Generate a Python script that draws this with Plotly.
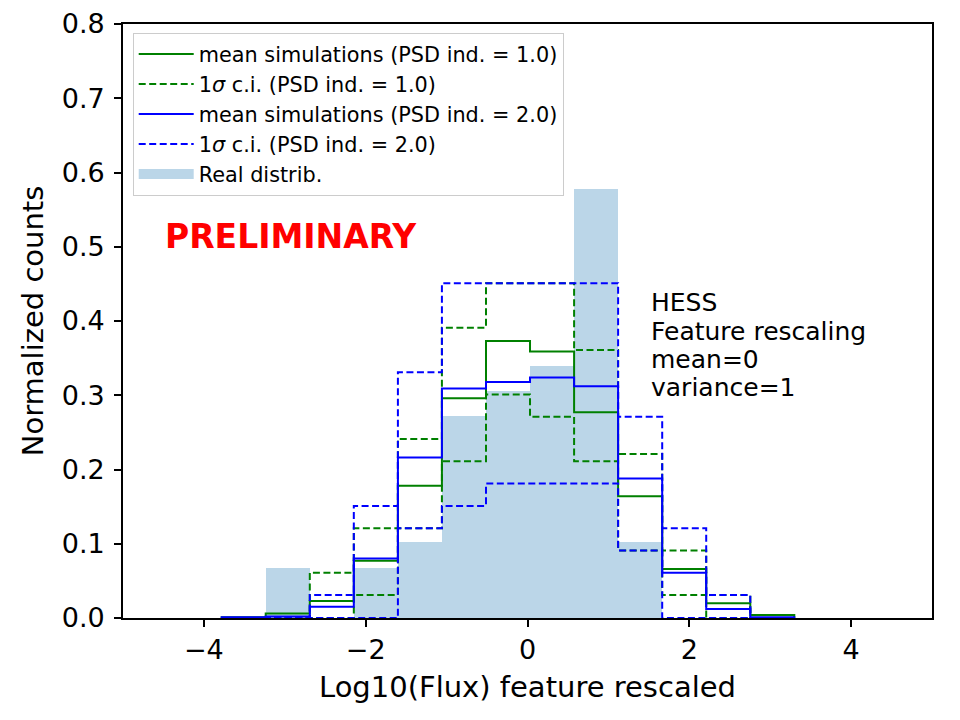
import numpy as np
import plotly.graph_objects as go

# ---------------- data ----------------
bin_edges = [-3.780, -3.236, -2.691, -2.147, -1.602, -1.058, -0.513,
             0.031, 0.576, 1.120, 1.665, 2.209, 2.754, 3.298]

real_distrib = [0.0, 0.068, 0.0, 0.068, 0.102, 0.272, 0.306, 0.340,
                0.578, 0.102, 0.0, 0.0, 0.0]

green_mean = [0.001, 0.006, 0.023, 0.077, 0.178, 0.296, 0.373, 0.359,
              0.277, 0.164, 0.066, 0.020, 0.004]
green_upper = [0.0, 0.0, 0.061, 0.121, 0.241, 0.391, 0.451, 0.451,
               0.361, 0.221, 0.091, 0.031, 0.0]
green_lower = [0.0, 0.0, 0.0, 0.031, 0.121, 0.211, 0.301, 0.271,
               0.211, 0.091, 0.031, 0.0, 0.0]

blue_mean = [0.001, 0.002, 0.015, 0.080, 0.216, 0.309, 0.318, 0.324,
             0.312, 0.188, 0.061, 0.012, 0.001]
blue_upper = [0.0, 0.0, 0.031, 0.151, 0.331, 0.451, 0.451, 0.451,
              0.451, 0.271, 0.121, 0.031, 0.0]
blue_lower = [0.0, 0.0, 0.0, 0.0, 0.121, 0.151, 0.181, 0.181,
              0.181, 0.091, 0.0, 0.0, 0.0]

x_ticks = [-4, -2, 0, 2, 4]
y_ticks = [0.0, 0.1, 0.2, 0.3, 0.4, 0.5, 0.6, 0.7, 0.8]

labels = {
    "gm": "mean simulations (PSD ind. = 1.0)",
    "gc": "1<i>σ</i> c.i. (PSD ind. = 1.0)",
    "bm": "mean simulations (PSD ind. = 2.0)",
    "bc": "1<i>σ</i> c.i. (PSD ind. = 2.0)",
    "real": "Real distrib.",
}
info_lines = ["HESS", "Feature rescaling", "mean=0", "variance=1"]

# ---------------- helpers ----------------
edges = np.array(bin_edges)
centers = (edges[:-1] + edges[1:]) / 2
widths = np.diff(edges)


def step_xy(vals):
    xs = [edges[0]] + list(edges[:-1]) + [edges[-1], edges[-1]]
    ys = [0.0] + list(vals) + [vals[-1], 0.0]
    return xs, ys


FONT = "DejaVu Sans"
BAR_COLOR = "rgba(31,119,180,0.3)"
fig = go.Figure()

fig.add_trace(go.Bar(
    x=centers, y=real_distrib, width=widths,
    marker=dict(color=BAR_COLOR, line=dict(width=0)),
    name=labels["real"], showlegend=False, legendgroup="real",
))
# legend entry for the real distribution (wide filled patch like matplotlib)
fig.add_trace(go.Scatter(
    x=[None], y=[None], mode="lines",
    line=dict(color=BAR_COLOR, width=14),
    name=labels["real"], legendrank=1005, legendgroup="real",
))

DASH = "7px,3.5px"
series = [
    ("gm", green_mean, "#008000", "solid", True, 1001),
    ("gc", green_upper, "#008000", DASH, True, 1002),
    ("gc", green_lower, "#008000", DASH, False, 1002),
    ("bm", blue_mean, "#0000ff", "solid", True, 1003),
    ("bc", blue_upper, "#0000ff", DASH, True, 1004),
    ("bc", blue_lower, "#0000ff", DASH, False, 1004),
]
for key, vals, col, dash, show, rank in series:
    xs, ys = step_xy(vals)
    fig.add_trace(go.Scatter(
        x=xs, y=ys, mode="lines",
        line=dict(shape="hv", color=col, width=2, dash=dash),
        name=labels[key], showlegend=show, legendrank=rank, legendgroup=key,
    ))

fig.add_annotation(
    x=-4.5, y=0.5, xref="x", yref="y", text="<b>PRELIMINARY</b>",
    showarrow=False, xanchor="left", yanchor="bottom", yshift=-11,
    font=dict(family=FONT, size=33, color="red"),
)
for i, line in enumerate(info_lines):
    fig.add_annotation(
        x=1.5, y=0.3, xref="x", yref="y", text=line, showarrow=False,
        xanchor="left", yanchor="bottom",
        yshift=-9 + (len(info_lines) - 1 - i) * 28.3,
        font=dict(family=FONT, size=25, color="black"),
    )

axis_common = dict(
    showline=True, linecolor="black", linewidth=1.6, mirror=True,
    ticks="outside", ticklen=7, tickwidth=1.6, tickcolor="black",
    showgrid=False, zeroline=False,
    tickfont=dict(family=FONT, size=27, color="black"),
)
fig.update_xaxes(
    range=[-5, 5], tickvals=x_ticks, **axis_common,
    title=dict(text="Log10(Flux) feature rescaled",
               font=dict(family=FONT, size=29, color="black"), standoff=12),
)
fig.update_yaxes(
    range=[0, 0.8], tickvals=y_ticks, tickformat=".1f", ticklabelstandoff=4,
    **axis_common,
    title=dict(text="Normalized counts",
               font=dict(family=FONT, size=29, color="black"), standoff=10),
)

fig.update_layout(
    width=960, height=720,
    margin=dict(l=123, r=28, t=24, b=102, autoexpand=False),
    plot_bgcolor="white", paper_bgcolor="white",
    bargap=0,
    showlegend=True,
    legend=dict(
        x=0.012, y=0.985, xanchor="left", yanchor="top",
        bgcolor="rgba(255,255,255,0.8)", bordercolor="#cccccc", borderwidth=1,
        font=dict(family=FONT, size=20.8, color="black"),
        tracegroupgap=0, traceorder="grouped", itemwidth=55,
    ),
    font=dict(family=FONT),
)

fig.write_html("out.html")
